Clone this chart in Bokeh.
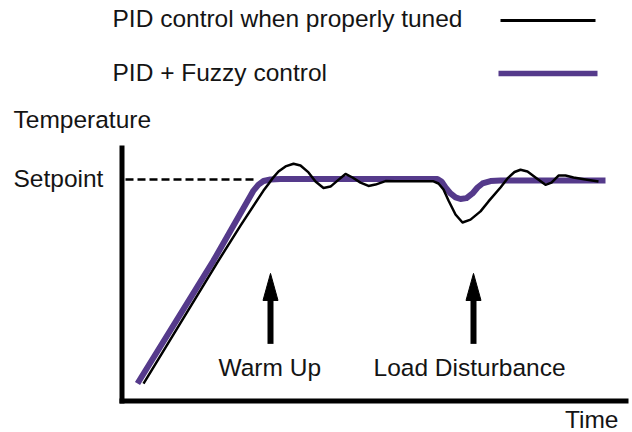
from bokeh.plotting import figure
from bokeh.models import Range1d, Label
from bokeh.embed import file_html
from bokeh.resources import INLINE

# ---------------- data (time: arbitrary units, temperature: % of setpoint) -------------
setpoint = 100.0

pid_time = [4.3, 19.3, 23.7, 28.3, 29.3, 30.1, 31.3, 32.7, 34.3, 35.7, 37.3, 38.7,
            40.3, 41.7, 43.1, 44.7, 46.1, 47.7, 49.3, 50.7, 52.7, 54.7, 62.3, 63.3,
            64.3, 65.3, 66.7, 68.1, 69.7, 71.7, 73.3, 75.7, 77.1, 78.5, 79.7, 81.1,
            82.7, 84.7, 85.9, 87.3, 88.7, 90.3, 92.7, 95.3]
pid_temp = [7.9, 63.4, 79.2, 95.0, 98.0, 100.5, 103.6, 105.9, 107.1, 106.3, 103.2, 99.1,
            96.2, 96.8, 99.5, 102.5, 100.9, 98.6, 97.1, 97.7, 99.3, 99.2, 99.2, 98.2,
            95.5, 90.5, 84.2, 80.6, 81.9, 85.6, 90.1, 96.4, 100.5, 103.4, 104.4, 103.6,
            100.9, 97.6, 98.6, 101.8, 101.8, 100.9, 100.0, 99.1]

fuzzy_time = [3.1, 18.3, 26.3, 27.3, 28.3, 29.7, 31.7, 63.1, 63.9, 64.7, 65.7, 66.7,
              67.7, 68.9, 70.1, 71.1, 72.1, 73.7, 75.7, 96.7]
fuzzy_temp = [7.9, 63.4, 95.0, 97.7, 99.3, 100.0, 100.2, 100.2, 99.1, 96.4, 93.7, 91.9,
              91.2, 91.6, 93.7, 96.4, 98.2, 99.3, 99.5, 99.5]

series_labels = ["PID control when properly tuned", "PID + Fuzzy control"]
event_labels = ["Warm Up", "Load Disturbance"]
event_time = [29.7, 70.3]

# ---------------- styles -------------
PURPLE = "#553A8B"
INK = "#141414"
FONT = "Liberation Sans"
FS = "24.5px"

p = figure(width=632, height=432,
           x_range=Range1d(-24.3, 102.1), y_range=Range1d(-14.2, 180.8),
           x_axis_type=None, y_axis_type=None,
           toolbar_location=None, output_backend="svg",
           min_border=0, outline_line_color=None)
p.background_fill_color = "white"
p.border_fill_color = "white"

# axes drawn as thick lines
p.line([0, 0], [-1.1, 115.3], line_width=5, line_color="black", line_cap="butt")
p.line([-0.5, 101.3], [0, 0], line_width=5, line_color="black", line_cap="butt")

# setpoint dashed reference
p.line([0.7, 27.1], [setpoint, setpoint], line_width=2.5, line_color="black",
       line_dash="8 4")

# curves
p.line(fuzzy_time, fuzzy_temp, line_width=6, line_color=PURPLE, line_join="round",
       line_cap="butt")
p.line(pid_time, pid_temp, line_width=2.5, line_color="black", line_join="round")

# legend (label left, sample line right)
p.line([75.7, 94.7], [171.8, 171.8], line_width=3, line_color="black")
p.line([75.3, 95.1], [147.9, 147.9], line_width=5.5, line_color=PURPLE)
for txt, yy in zip(series_labels, [172.9, 148.1]):
    p.add_layout(Label(x=-1.9, y=yy, text=txt, text_font=FONT, text_font_size=FS,
                       text_color=INK, text_baseline="alphabetic"))

# event arrows
shaft_bottom, head_base, head_tip, half_w = 25.8, 45.4, 57.6, 1.5
for t in event_time:
    p.line([t, t], [shaft_bottom, head_base + 0.5], line_width=6, line_color="black",
           line_cap="butt")
    p.patch([t - half_w, t + half_w, t], [head_base, head_base, head_tip],
            fill_color="black", line_color="black", line_width=1)

# texts
p.add_layout(Label(x=-21.7, y=127.1, text="Temperature", text_font=FONT, text_font_size=FS,
                   text_color=INK, text_baseline="alphabetic"))
p.add_layout(Label(x=-21.7, y=100.4, text="Setpoint", text_font=FONT, text_font_size=FS,
                   text_color=INK, text_baseline="alphabetic"))
p.add_layout(Label(x=19.3, y=15.2, text=event_labels[0], text_font=FONT, text_font_size=FS,
                   text_color=INK, text_baseline="alphabetic"))
p.add_layout(Label(x=50.3, y=15.2, text=event_labels[1], text_font=FONT, text_font_size=FS,
                   text_color=INK, text_baseline="alphabetic"))
p.add_layout(Label(x=99.3, y=-8.3, text="Time", text_font=FONT, text_font_size=FS,
                   text_color=INK, text_baseline="alphabetic", text_align="right"))

open("out.html", "w").write(file_html(p, INLINE))
